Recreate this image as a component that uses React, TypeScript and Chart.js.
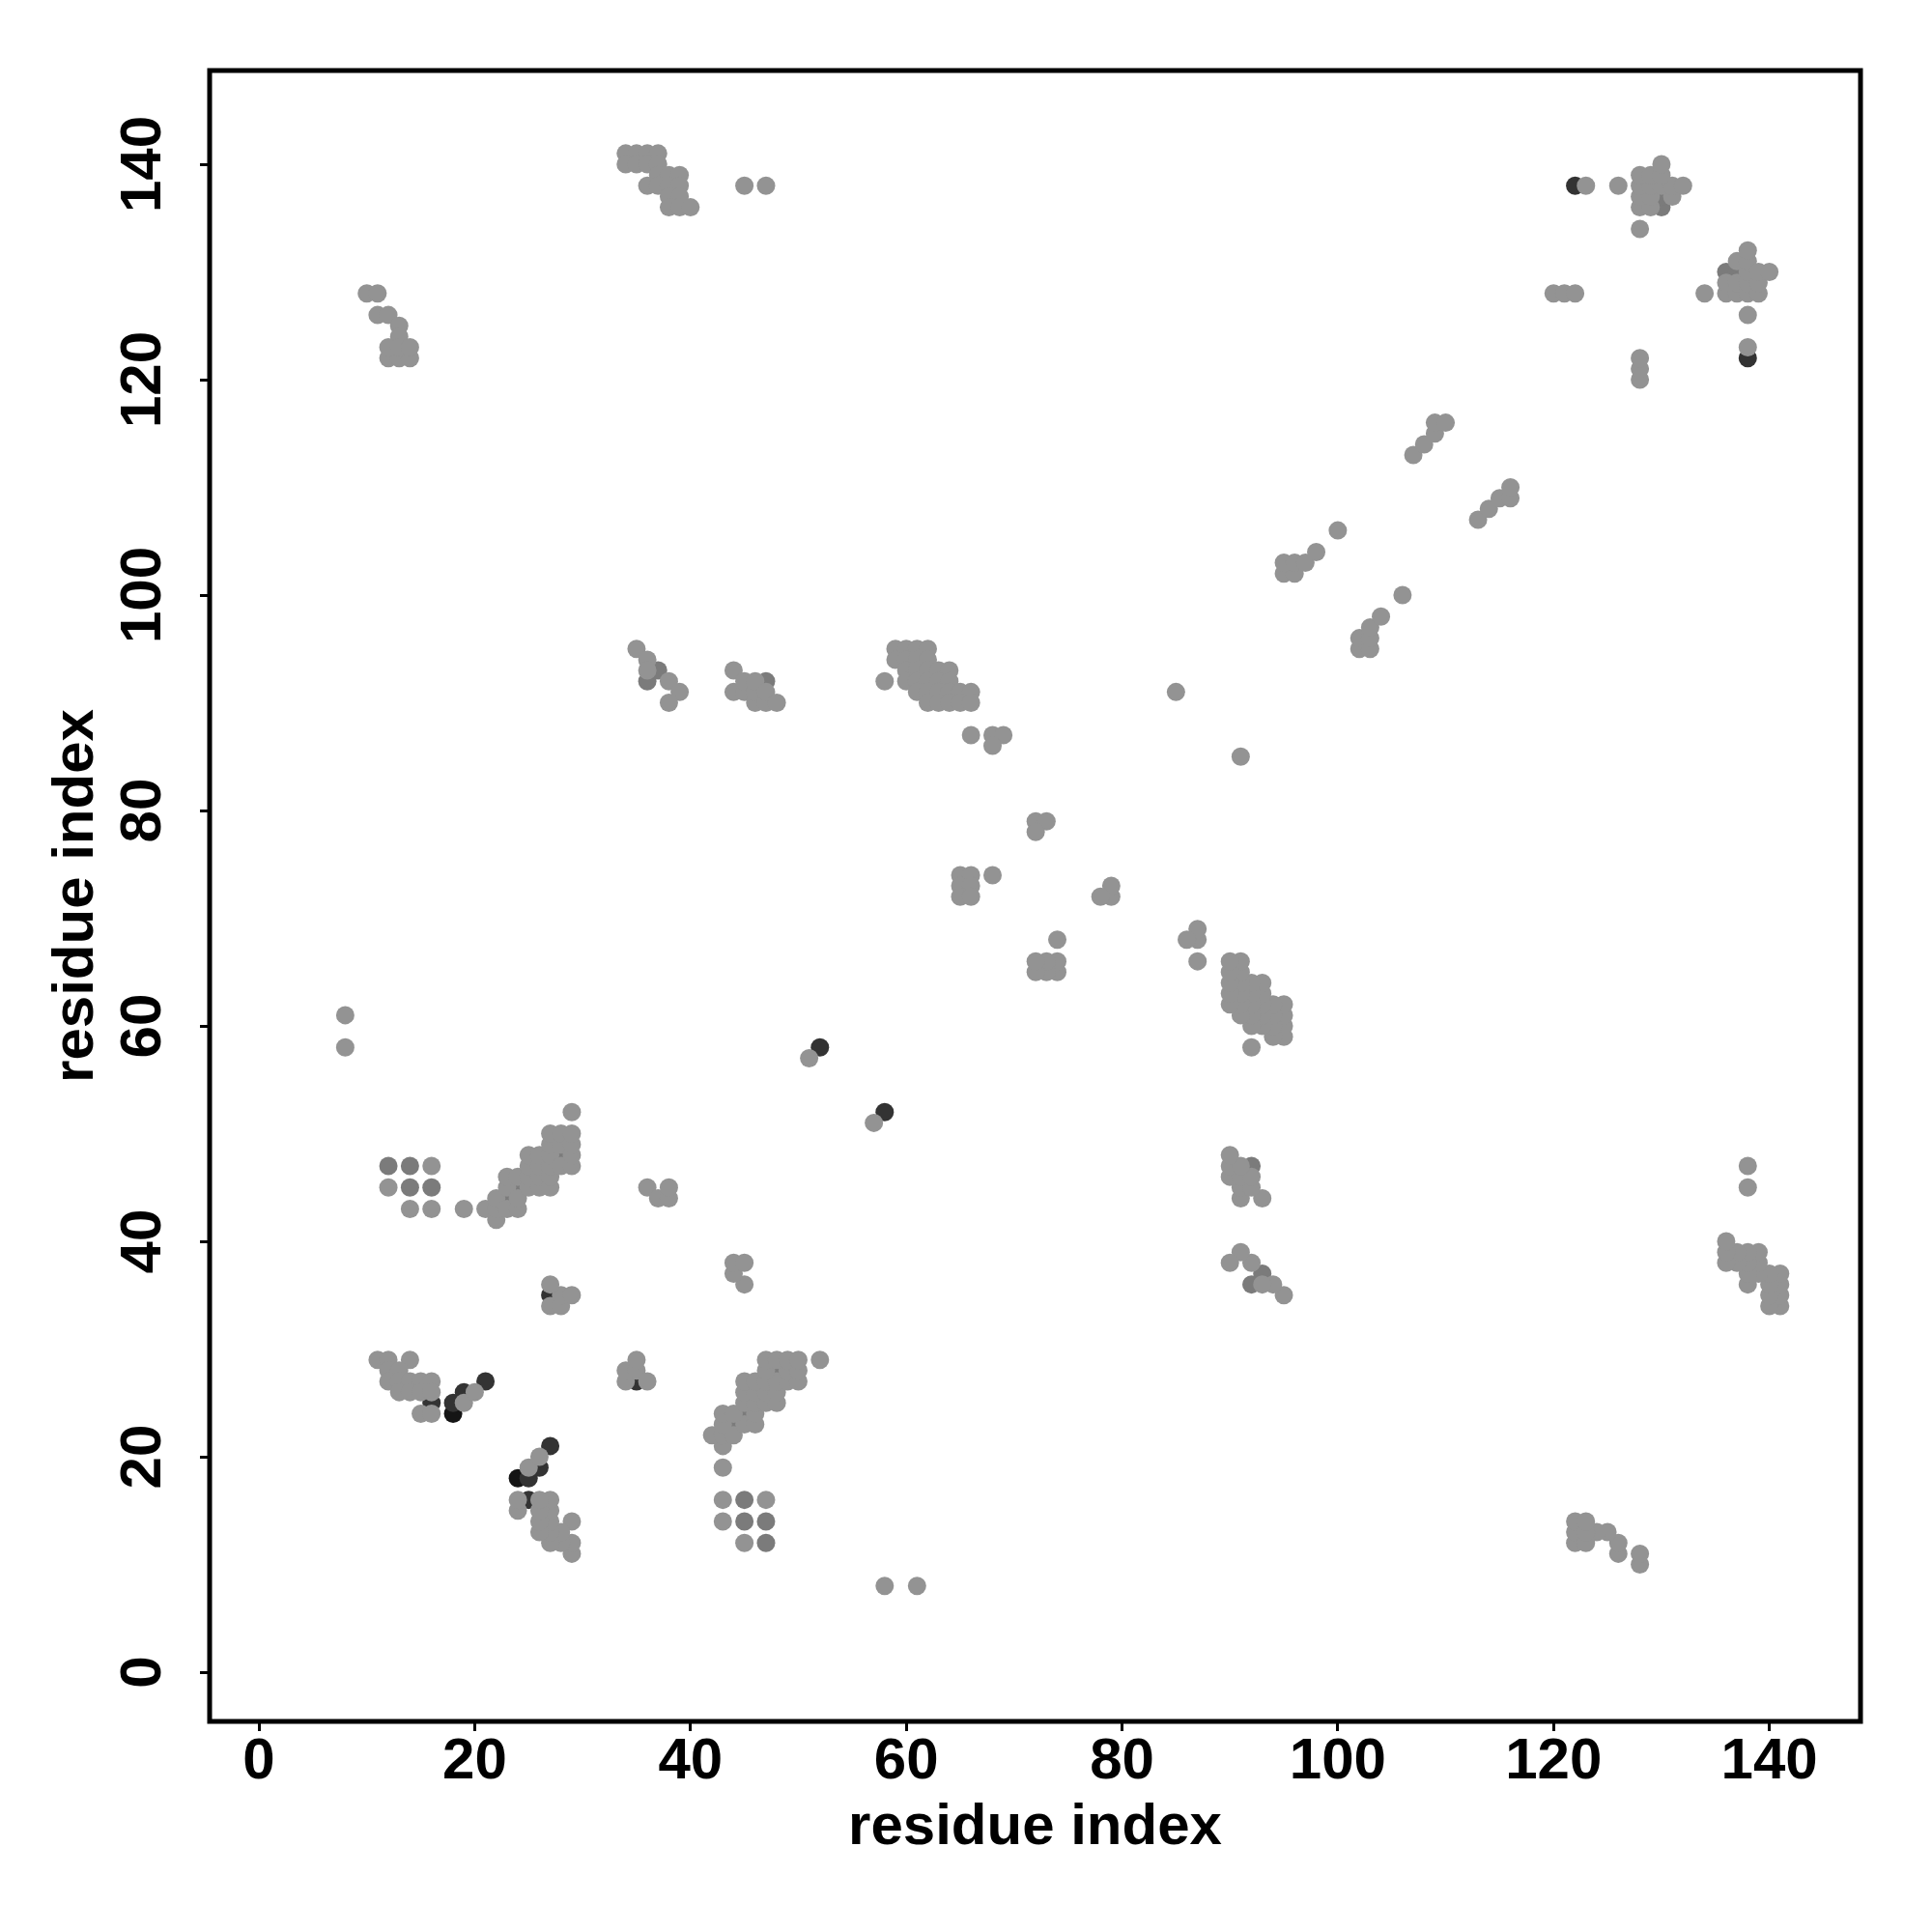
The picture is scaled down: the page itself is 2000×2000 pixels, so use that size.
import React, { useEffect, useRef } from 'react';
import { Chart, registerables } from 'chart.js';

Chart.register(...registerables);

// Tick values for both axes
const xTickValues = [0, 20, 40, 60, 80, 100, 120, 140];
const yTickValues = [0, 20, 40, 60, 80, 100, 120, 140];
const axisMin = -4.57;
const xAxisMax = 148.45;
const yAxisMax = 148.7;

// Contact pairs [i, j] with i < j (map is symmetric, both (i,j) and (j,i) are drawn)
const grayPairs: [number, number][] = [
  [10, 128], [11, 128], [11, 126], [12, 126], [13, 125], [13, 124],
  [12, 122], [13, 122], [14, 122], [12, 123], [13, 123], [14, 123],
  [34, 141], [35, 141], [36, 141], [37, 141], [34, 140], [35, 140], [36, 140], [37, 140],
  [37, 139], [38, 139], [39, 139], [36, 138], [37, 138], [38, 138], [39, 138],
  [38, 137], [39, 137], [38, 136], [39, 136], [40, 136], [45, 138], [47, 138],
  [120, 128], [121, 128], [122, 128], [128, 134], [123, 138], [126, 138],
  [128, 136], [129, 136], [128, 137], [129, 137], [131, 137],
  [128, 138], [129, 138], [130, 138], [131, 138], [132, 138],
  [128, 139], [129, 139], [130, 139], [130, 140],
  [95, 102], [96, 102], [95, 103], [96, 103], [97, 103], [98, 104], [100, 106],
  [107, 113], [108, 114], [109, 115], [109, 116], [110, 116],
  [35, 95], [36, 94], [36, 93], [38, 92], [39, 91], [38, 90],
  [44, 91], [44, 93], [45, 91], [45, 92], [46, 90], [46, 91], [46, 92], [47, 90], [47, 91], [48, 90],
  [59, 95], [60, 95], [61, 95], [62, 95], [59, 94], [60, 94], [61, 94], [62, 94],
  [60, 93], [61, 93], [62, 93], [63, 93], [64, 93],
  [58, 92], [60, 92], [61, 92], [62, 92], [63, 92], [64, 92],
  [61, 91], [62, 91], [63, 91], [64, 91], [65, 91], [66, 91],
  [62, 90], [63, 90], [64, 90], [65, 90], [66, 90],
  [85, 91], [66, 87], [68, 87], [69, 87], [68, 86],
  [72, 79], [73, 79], [72, 78],
  [65, 74], [66, 74], [65, 73], [66, 73], [65, 72], [66, 72], [68, 74],
  [51, 57], [8, 61], [8, 58],
  [12, 45], [16, 47], [14, 43], [16, 43],
  [19, 43], [21, 43], [22, 42], [22, 43], [22, 44], [23, 43], [23, 45], [23, 46],
  [24, 43], [24, 44], [24, 46], [25, 45], [25, 46], [25, 47], [25, 48],
  [26, 45], [26, 46], [26, 47], [26, 48], [27, 45], [27, 46], [27, 47], [27, 48], [27, 49], [27, 50],
  [28, 47], [28, 49], [28, 50], [29, 47], [29, 48], [29, 49], [29, 50], [29, 52],
  [36, 45], [37, 44], [38, 44], [38, 45],
  [27, 34], [28, 34], [28, 35], [29, 35], [27, 36],
  [11, 29], [12, 29], [14, 29], [12, 28], [13, 28],
  [12, 27], [13, 27], [14, 27], [15, 27], [16, 27],
  [13, 26], [14, 26], [15, 26], [16, 26], [15, 24], [16, 24], [19, 25], [20, 26],
];

const midPairs: [number, number][] = [
  [130, 136], [130, 137], [36, 92], [37, 93], [47, 92],
  [14, 45], [14, 47], [12, 47], [16, 45], [23, 44], [24, 45], [28, 48],
];

const darkPairs: [number, number][] = [
  [16, 25], [18, 25], [19, 26], [21, 27], [27, 35], [52, 58], [122, 138],
];

const blackPairs: [number, number][] = [[18, 24]];

const grayColor = '#939393';
const midColor = '#7b7b7b';
const darkColor = '#333333';
const blackColor = '#151515';

const both = (pairs: [number, number][]) =>
  pairs.flatMap(([i, j]) => [{ x: i, y: j }, { x: j, y: i }]);

const boxPlugin = {
  id: 'plotBox',
  afterDraw(chart: any) {
    const { ctx, chartArea } = chart;
    const { left, top, right, bottom } = chartArea;
    ctx.save();
    ctx.strokeStyle = '#000';
    ctx.lineWidth = 5;
    ctx.strokeRect(left, top, right - left, bottom - top);
    ctx.restore();
  },
};

export default function App() {
  const canvasRef = useRef<HTMLCanvasElement | null>(null);

  useEffect(() => {
    if (!canvasRef.current) return;
    const font = { family: '"Liberation Sans", Arial, sans-serif', size: 60, weight: 'bold' as const, lineHeight: 1 };
    const pt = { pointRadius: 9.5, pointHoverRadius: 9.5, pointBorderWidth: 0, showLine: false };
    const chart = new Chart(canvasRef.current, {
      type: 'scatter',
      data: {
        datasets: [
          { label: 'gray', data: both(grayPairs), backgroundColor: grayColor, borderColor: grayColor, ...pt },
          { label: 'mid', data: both(midPairs), backgroundColor: midColor, borderColor: midColor, ...pt },
          { label: 'dark', data: both(darkPairs), backgroundColor: darkColor, borderColor: darkColor, ...pt },
          { label: 'black', data: both(blackPairs), backgroundColor: blackColor, borderColor: blackColor, ...pt },
        ],
      },
      options: {
        animation: false,
        responsive: false,
        devicePixelRatio: 1,
        layout: { padding: { top: 73, right: 74, left: 0, bottom: 0 } },
        plugins: { legend: { display: false }, tooltip: { enabled: false } },
        scales: {
          x: {
            type: 'linear',
            min: axisMin,
            max: xAxisMax,
            afterBuildTicks: (s: any) => { s.ticks = xTickValues.map((v) => ({ value: v })); },
            afterFit: (s: any) => { s.height = 218; },
            ticks: { font, color: '#000', padding: 2, maxRotation: 0, minRotation: 0, callback: (v: any) => String(v) },
            grid: { drawOnChartArea: false, drawTicks: true, tickLength: 10, tickWidth: 3, tickColor: '#000' },
            border: { display: false },
            title: { display: true, text: 'residue index', font, color: '#000', padding: { top: 0, bottom: 78 } },
          },
          y: {
            type: 'linear',
            min: axisMin,
            max: yAxisMax,
            afterBuildTicks: (s: any) => { s.ticks = yTickValues.map((v) => ({ value: v })); },
            afterFit: (s: any) => { s.width = 217; },
            ticks: { font, color: '#000', padding: 7, minRotation: 90, maxRotation: 90, crossAlign: 'center', callback: (v: any) => String(v) },
            grid: { drawOnChartArea: false, drawTicks: true, tickLength: 10, tickWidth: 3, tickColor: '#000' },
            border: { display: false },
            title: { display: true, text: 'residue index', font, color: '#000', padding: { top: 49, bottom: 0 } },
          },
        },
      },
      plugins: [boxPlugin],
    } as any);
    return () => chart.destroy();
  }, []);

  return (
    <div style={{ position: 'absolute', left: 0, top: 0, width: 2000, height: 2000, background: '#fff' }}>
      <canvas ref={canvasRef} width={2000} height={2000} style={{ width: 2000, height: 2000 }} />
    </div>
  );
}
